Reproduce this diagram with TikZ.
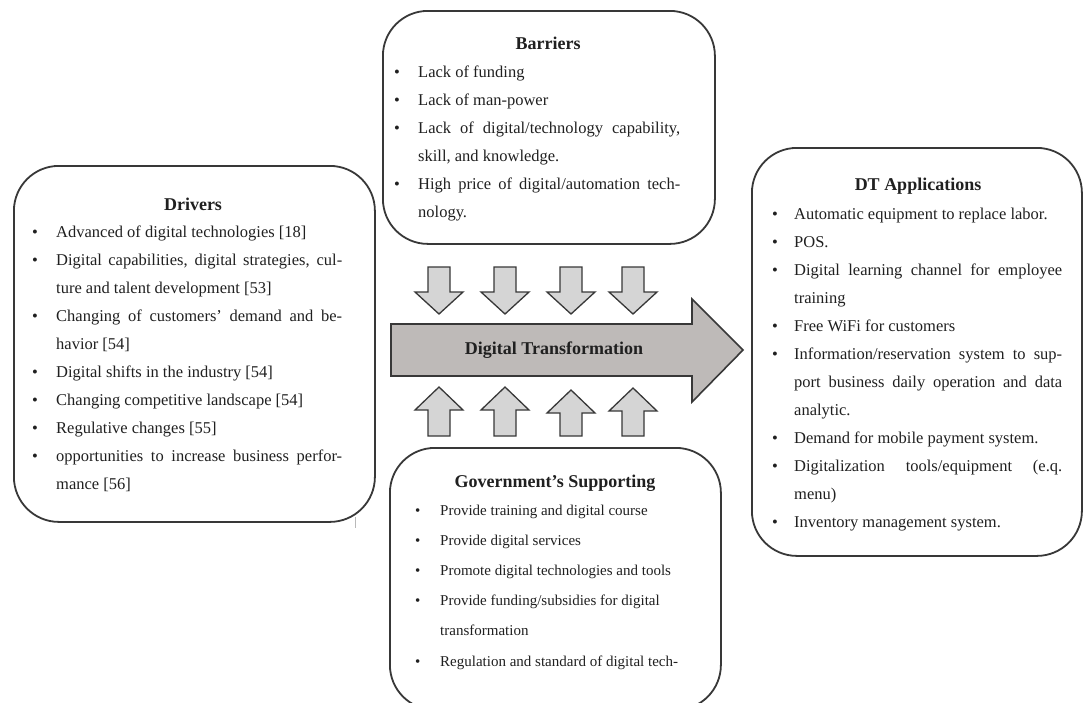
\documentclass[tikz,border=0pt]{standalone}
\usepackage{fontspec}
\setmainfont{Liberation Serif}
\usepackage{array}
\definecolor{linec}{HTML}{383838}
\definecolor{bigfill}{HTML}{BEBAB8}
\definecolor{smallfill}{HTML}{D5D5D5}
\definecolor{txt}{HTML}{202020}
\newcommand{\DownArr}[1]{\draw[smallarrow] ({#1-11},267) -- ({#1+11},267) -- ({#1+11},292) -- ({#1+24},292) -- (#1,314) -- ({#1-24},292) -- ({#1-11},292) -- cycle;}
\newcommand{\UpArr}[2]{\draw[smallarrow] ({#1-11},436) -- ({#1+11},436) -- ({#1+11},{#2+23}) -- ({#1+24},{#2+23}) -- (#1,#2) -- ({#1-24},{#2+23}) -- ({#1-11},{#2+23}) -- cycle;}
\begin{document}
\begin{tikzpicture}[x=1pt,y=-1pt,
  box/.style={draw=linec, line width=1.8pt, rounded corners=45pt, fill=white, inner sep=0pt, anchor=north west},
  title/.style={font=\fontsize{18}{22}\selectfont\bfseries, text=txt, inner sep=0pt},
  listtext/.style={font=\fontsize{16.5}{28}\selectfont, text=txt, inner sep=0pt, anchor=base west},
  govtext/.style={font=\fontsize{15}{30.2}\selectfont, text=txt, inner sep=0pt, anchor=base west},
  bigarrow/.style={draw=linec, line width=1.6pt, fill=bigfill, line join=miter},
  smallarrow/.style={draw=linec, line width=1.3pt, fill=smallfill, line join=miter}]
\useasboundingbox (0,0) rectangle (1083,702);
\clip (0,0) rectangle (1083,702);
\fill[white] (0,0) rectangle (1083,702);

% boxes
\node[box, minimum width=361pt, minimum height=356pt] (drivers) at (13,165) {};
\node[box, minimum width=332pt, minimum height=233pt] (barriers) at (382,10) {};
\node[box, minimum width=330pt, minimum height=408pt] (apps) at (751,147) {};
\node[box, minimum width=331pt, minimum height=262pt] (gov) at (389,447) {};

% titles
\node[title, anchor=base] (tdrivers) at (193,210) {Drivers};
\node[title, anchor=base] (tbarriers) at (548,49) {Barriers};
\node[title, anchor=base] (tapps) at (918,190) {DT Applications};
\node[title, anchor=base] (tgov) at (555,487) {Government’s Supporting};

% lists
\node[listtext] (ldrivers) at (32,237) {\begin{tabular}[t]{@{}p{24pt}@{}p{286pt}@{}}
\textbullet & Advanced of digital technologies [18]\\
\textbullet & Digital capabilities, digital strategies, cul-\linebreak ture and talent development [53]\\
\textbullet & Changing of customers’ demand and be-\linebreak havior [54]\\
\textbullet & Digital shifts in the industry [54]\\
\textbullet & Changing competitive landscape [54]\\
\textbullet & Regulative changes [55]\\
\textbullet & opportunities to increase business perfor-\linebreak mance [56]
\end{tabular}};

\node[listtext] (lbarriers) at (394,77) {\begin{tabular}[t]{@{}p{24pt}@{}p{262pt}@{}}
\textbullet & Lack of funding\\
\textbullet & Lack of man-power\\
\textbullet & Lack of digital/technology capability,\linebreak skill, and knowledge.\\
\textbullet & High price of digital/automation tech-\linebreak nology.
\end{tabular}};

\node[listtext] (lapps) at (772,219) {\begin{tabular}[t]{@{}p{22pt}@{}p{268pt}@{}}
\textbullet & Automatic equipment to replace labor.\\
\textbullet & POS.\\
\textbullet & Digital learning channel for employee\linebreak training\\
\textbullet & Free WiFi for customers\\
\textbullet & Information/reservation system to sup-\linebreak port business daily operation and data\linebreak analytic.\\
\textbullet & Demand for mobile payment system.\\
\textbullet & Digitalization tools/equipment (e.q.\linebreak menu)\\
\textbullet & Inventory management system.
\end{tabular}};

\node[govtext] (lgov) at (415,515) {\begin{tabular}[t]{@{}p{25pt}@{}>{\raggedright\arraybackslash}p{250pt}@{}}
\textbullet & Provide training and digital course\\
\textbullet & Provide digital services\\
\textbullet & Promote digital technologies and tools\\
\textbullet & Provide funding/subsidies for digital\newline transformation\\
\textbullet & Regulation and standard of digital tech-
\end{tabular}};

% central arrow
\draw[bigarrow] (391,324) -- (692,324) -- (692,299) -- (743,350) -- (692,402) -- (692,376) -- (391,376) -- cycle;
\node[title] (dt) at (554,350) {Digital Transformation};

% small arrows
\DownArr{439}
\DownArr{505}
\DownArr{571}
\DownArr{633}
\UpArr{439}{387}
\UpArr{505}{387}
\UpArr{571}{390}
\UpArr{633}{388}

% small stray mark
\draw[gray!55, line width=0.8pt] (355,517) -- (355,528);
\end{tikzpicture}
\end{document}
